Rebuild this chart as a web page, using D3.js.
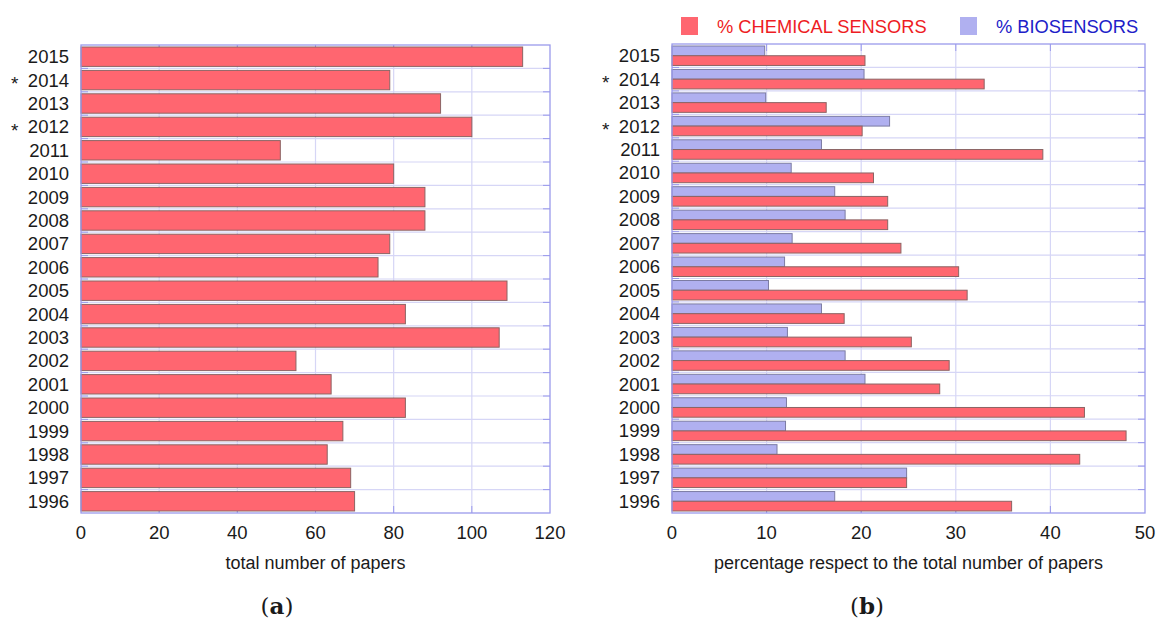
<!DOCTYPE html>
<html>
<head>
<meta charset="utf-8">
<script src="https://cdn.jsdelivr.net/npm/d3@7"></script>
<style>
  body { margin: 0; background: #fff; }
  svg { font-family: "Liberation Sans", Arial, sans-serif; }
</style>
</head>
<body>
<svg id="chart" width="1156" height="625"></svg>
<script>
// data
const years = [2015, 2014, 2013, 2012, 2011, 2010, 2009, 2008, 2007, 2006,
               2005, 2004, 2003, 2002, 2001, 2000, 1999, 1998, 1997, 1996];
const starredYears = [2014, 2012];
const totalPapers = [113, 79, 92, 100, 51, 80, 88, 88, 79, 76,
                     109, 83, 107, 55, 64, 83, 67, 63, 69, 70];
const chemPct = [20.4, 33.0, 16.3, 20.1, 39.2, 21.3, 22.8, 22.8, 24.2, 30.3,
                 31.2, 18.2, 25.3, 29.3, 28.3, 43.6, 48.0, 43.1, 24.8, 35.9];
const bioPct = [9.8, 20.3, 9.9, 23.0, 15.8, 12.6, 17.2, 18.3, 12.7, 11.9,
                10.2, 15.8, 12.2, 18.3, 20.4, 12.1, 12.0, 11.1, 24.8, 17.2];
const leftTicks = [0, 20, 40, 60, 80, 100, 120];
const rightTicks = [0, 10, 20, 30, 40, 50];
const seriesNames = ["% CHEMICAL SENSORS", "% BIOSENSORS"];

const RED = "#ff6670", RED_EDGE = "#8c6464";
const BLUE = "#b0b0f0", BLUE_EDGE = "#7c7ca4";
const GRID = "#d6d6f6", FRAME = "#9a9aec";
const INK = "#1a1a1a";

const svg = d3.select("#chart");

// draws the frame, grid, small ticks, year labels and x axis of one panel
function panel(left, right, top, bottom, xMax, ticks, title, tag, tagX) {
    const x = d3.scaleLinear().domain([0, xMax]).range([left, right]);
    const y = d3.scaleBand().domain(years).range([top, bottom]);
    const g = svg.append("g");

    // vertical grid
    g.selectAll(".vgrid").data(ticks.slice(1, -1)).enter().append("line")
        .attr("x1", d => x(d)).attr("x2", d => x(d))
        .attr("y1", top).attr("y2", bottom)
        .attr("stroke", GRID).attr("stroke-width", 1.2);
    // horizontal grid at row boundaries
    g.selectAll(".hgrid").data(years.slice(1)).enter().append("line")
        .attr("x1", left).attr("x2", right)
        .attr("y1", d => y(d)).attr("y2", d => y(d))
        .attr("stroke", GRID).attr("stroke-width", 1.2);

    // small ticks along the frame
    const tk = g.append("g").attr("stroke", FRAME).attr("stroke-width", 1);
    tk.selectAll(".tt").data(ticks.slice(1, -1)).enter().append("line")
        .attr("x1", d => x(d)).attr("x2", d => x(d)).attr("y1", top).attr("y2", top + 7);
    tk.selectAll(".tb").data(ticks.slice(1, -1)).enter().append("line")
        .attr("x1", d => x(d)).attr("x2", d => x(d)).attr("y1", bottom).attr("y2", bottom - 7);
    tk.selectAll(".tl").data(years.slice(1)).enter().append("line")
        .attr("x1", left).attr("x2", left + 7).attr("y1", d => y(d)).attr("y2", d => y(d));
    tk.selectAll(".tr").data(years.slice(1)).enter().append("line")
        .attr("x1", right).attr("x2", right - 7).attr("y1", d => y(d)).attr("y2", d => y(d));

    // x tick labels
    g.selectAll(".xl").data(ticks).enter().append("text")
        .attr("x", d => x(d)).attr("y", bottom + 26)
        .attr("text-anchor", "middle").attr("font-size", 18.5).attr("fill", INK)
        .text(d => d);

    // year labels + asterisks
    g.selectAll(".yl").data(years).enter().append("text")
        .attr("x", left - 12).attr("y", d => y(d) + y.bandwidth() / 2 + 6.5)
        .attr("text-anchor", "end").attr("font-size", 18.5).attr("fill", INK)
        .text(d => d);
    g.selectAll(".star").data(starredYears).enter().append("text")
        .attr("x", left - 70).attr("y", d => y(d) + y.bandwidth() / 2 + 10)
        .attr("font-size", 19).attr("fill", INK)
        .text("*");

    g.append("text")
        .attr("x", (left + right) / 2).attr("y", bottom + 56)
        .attr("text-anchor", "middle").attr("font-size", 18).attr("fill", INK)
        .text(title);

    const lab = g.append("text")
        .attr("x", tagX).attr("y", 614)
        .attr("text-anchor", "middle").attr("font-size", 23)
        .attr("font-family", "'DejaVu Serif', 'Liberation Serif', serif").attr("fill", INK);
    lab.append("tspan").text("(");
    lab.append("tspan").attr("font-weight", "bold").text(tag);
    lab.append("tspan").text(")");

    return { x, y, g, frame: () => g.append("rect")
        .attr("x", left).attr("y", top).attr("width", right - left).attr("height", bottom - top)
        .attr("fill", "none").attr("stroke", FRAME).attr("stroke-width", 1.3) };
}

// (a) total number of papers
const a = panel(81, 550, 45, 513, 120, leftTicks, "total number of papers", "a", 277);
a.g.selectAll(".bar").data(totalPapers).enter().append("rect")
    .attr("x", a.x(0))
    .attr("y", (d, i) => a.y(years[i]) + 2)
    .attr("width", d => a.x(d) - a.x(0))
    .attr("height", a.y.bandwidth() - 4)
    .attr("fill", RED).attr("stroke", RED_EDGE).attr("stroke-width", 1);
a.frame();

// (b) percentage split
const b = panel(672, 1145, 44, 513, 50, rightTicks,
    "percentage respect to the total number of papers", "b", 867);
const sub = d3.scaleBand().domain(["bio", "chem"]).range([2, b.y.bandwidth() - 2]);
b.g.selectAll(".bio").data(bioPct).enter().append("rect")
    .attr("x", b.x(0))
    .attr("y", (d, i) => b.y(years[i]) + sub("bio"))
    .attr("width", d => b.x(d) - b.x(0))
    .attr("height", sub.bandwidth())
    .attr("fill", BLUE).attr("stroke", BLUE_EDGE).attr("stroke-width", 1);
b.g.selectAll(".chem").data(chemPct).enter().append("rect")
    .attr("x", b.x(0))
    .attr("y", (d, i) => b.y(years[i]) + sub("chem"))
    .attr("width", d => b.x(d) - b.x(0))
    .attr("height", sub.bandwidth())
    .attr("fill", RED).attr("stroke", RED_EDGE).attr("stroke-width", 1);
b.frame();

// legend
const legend = svg.append("g");
const legendItems = [
    { name: seriesNames[0], fill: RED, text: "#ee1c24", sx: 681, tx: 717 },
    { name: seriesNames[1], fill: BLUE, text: "#2020c8", sx: 960, tx: 996 }
];
legend.selectAll("rect").data(legendItems).enter().append("rect")
    .attr("x", d => d.sx).attr("y", 17).attr("width", 17).attr("height", 18)
    .attr("fill", d => d.fill);
legend.selectAll("text").data(legendItems).enter().append("text")
    .attr("x", d => d.tx).attr("y", 32.5).attr("font-size", 18.3)
    .attr("fill", d => d.text)
    .text(d => d.name);
</script>
</body>
</html>
